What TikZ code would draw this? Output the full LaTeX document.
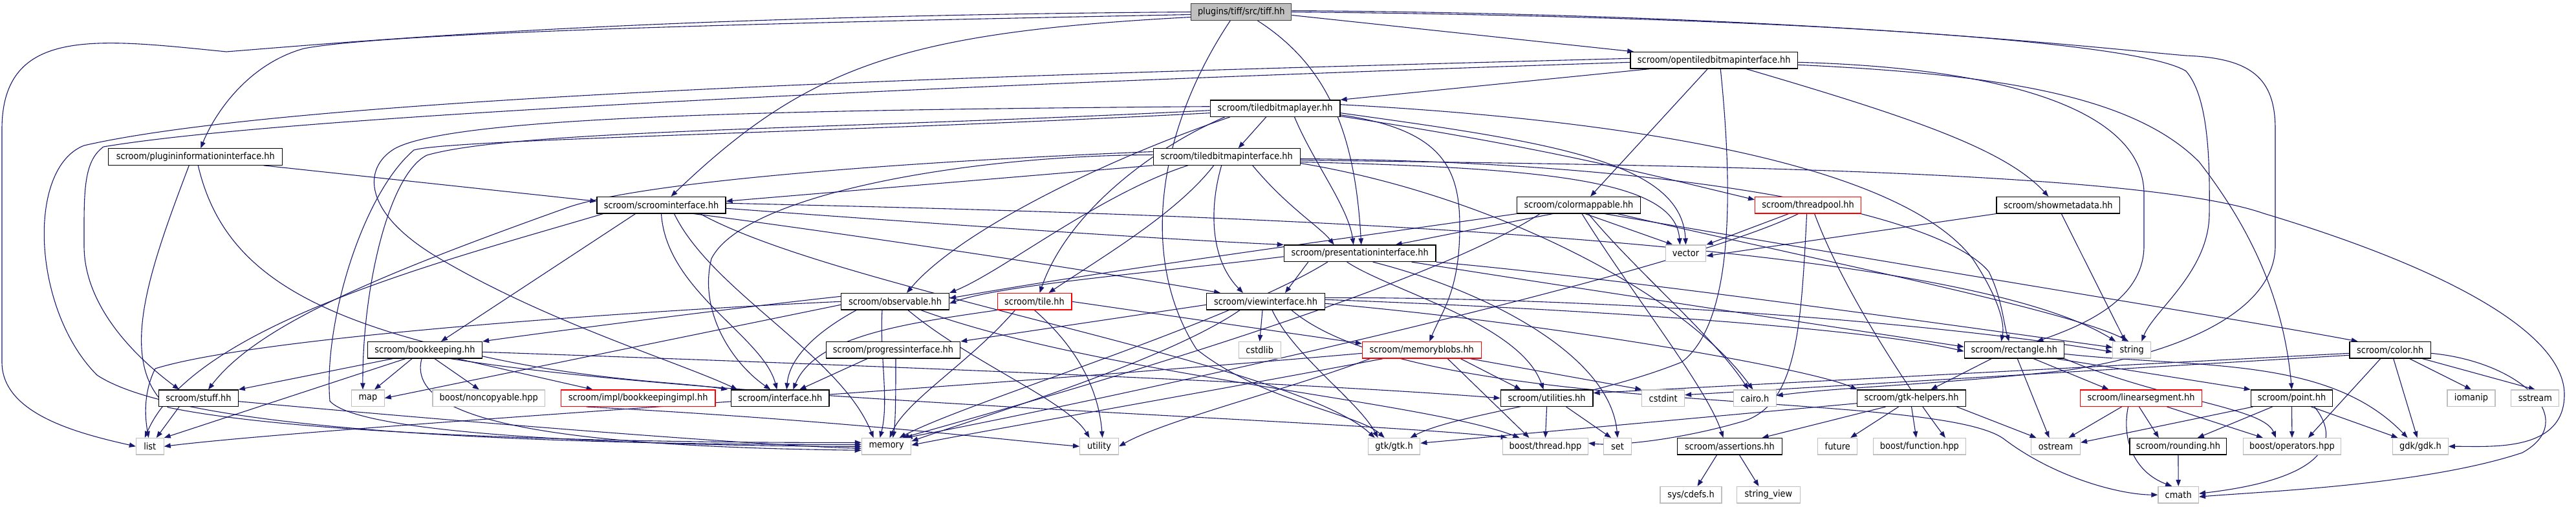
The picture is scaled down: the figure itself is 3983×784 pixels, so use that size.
\documentclass[tikz,border=0pt]{standalone}
\usepackage{fontspec}
\setmainfont{DejaVu Sans}[FakeStretch=0.9]
\usetikzlibrary{arrows.meta}
\definecolor{edgec}{HTML}{191970}
\definecolor{gbord}{HTML}{BFBFBF}
\definecolor{rootfill}{HTML}{BFBFBF}
\definecolor{rootbord}{HTML}{404040}
\newcommand{\fs}{\fontsize{14.4pt}{17pt}\selectfont}
\pgfdeclarelayer{back}
\pgfdeclarelayer{bg}
\pgfsetlayers{back,bg,main}
\tikzset{
 nb/.style={draw=black, fill=white, line width=1.2pt, minimum height=25.5pt, inner sep=0pt, font=\fs},
 ng/.style={nb, draw=gbord},
 nr/.style={nb, draw=red},
 nroot/.style={nb, fill=rootfill, draw=rootbord},
 edg/.style={draw=edgec, line width=1.1pt, -{Triangle[length=10pt,width=7.5pt]}},
}
\begin{document}
\begin{tikzpicture}[x=1pt,y=-1pt]
\begin{pgfonlayer}{back}
\fill[white] (0,0) rectangle (3983,784);
\end{pgfonlayer}
\useasboundingbox (0,0) rectangle (3983,784);
% row 0-5
\node[nroot, minimum width=155pt] (tiff) at (1919.3,18.5) {plugins/tiff/src/tiff.hh};
\node[nb, minimum width=258.3pt] (ot) at (2650.2,93.3) {scroom/opentiledbitmapinterface.hh};
\node[nb, minimum width=200.8pt] (tl) at (1971.6,167.7) {scroom/tiledbitmaplayer.hh};
\node[nb, minimum width=269pt] (pi) at (302.3,242.5) {scroom/plugininformationinterface.hh};
\node[nb, minimum width=227pt] (ti) at (1896.7,242.5) {scroom/tiledbitmapinterface.hh};
\node[nb, minimum width=199pt] (si) at (1022.5,317.2) {scroom/scroominterface.hh};
\node[nb, minimum width=190.7pt] (cm) at (2441,317.2) {scroom/colormappable.hh};
\node[nr, minimum width=164pt] (tp) at (2795.6,317.2) {scroom/threadpool.hh};
\node[nb, minimum width=190.7pt] (sm) at (3182.3,317.2) {scroom/showmetadata.hh};
\node[nb, minimum width=234.7pt] (pr) at (2102.7,391.8) {scroom/presentationinterface.hh};
\node[ng, minimum width=62.5pt] (vec) at (2606.5,391.8) {vector};
% row 6
\node[nb, minimum width=167pt] (obs) at (1384,466.3) {scroom/observable.hh};
\node[nr, minimum width=114.8pt] (tile) at (1599.5,466.3) {scroom/tile.hh};
\node[nb, minimum width=183pt] (vi) at (1957,466.3) {scroom/viewinterface.hh};
% row 7
\node[nb, minimum width=177pt] (bk) at (657,541.3) {scroom/bookkeeping.hh};
\node[nb, minimum width=207.3pt] (prog) at (1381,541.3) {scroom/progressinterface.hh};
\node[ng, minimum width=65pt] (cstdlib) at (1947.7,541.3) {cstdlib};
\node[nr, minimum width=183.7pt] (mb) at (2198.3,541.3) {scroom/memoryblobs.hh};
\node[nb, minimum width=154.3pt] (rect) at (3114.3,541.3) {scroom/rectangle.hh};
\node[ng, minimum width=58.7pt] (string) at (3296.2,541.3) {string};
\node[nb, minimum width=125.6pt] (color) at (3695.7,541.3) {scroom/color.hh};
% row 8
\node[nb, minimum width=122.5pt] (stuff) at (307,615.7) {scroom/stuff.hh};
\node[ng, minimum width=50.4pt] (map) at (569,615.7) {map};
\node[ng, minimum width=173.5pt] (nc) at (755.8,615.7) {boost/noncopyable.hpp};
\node[nr, minimum width=238.6pt] (bki) at (986.6,615.7) {scroom/impl/bookkeepingimpl.hh};
\node[nb, minimum width=151.2pt] (intf) at (1206.3,615.7) {scroom/interface.hh};
\node[nb, minimum width=142.8pt] (util) at (2391.6,615.7) {scroom/utilities.hh};
\node[ng, minimum width=65.7pt] (cstdint) at (2571.7,615.7) {cstdint};
\node[ng, minimum width=65.7pt] (cairo) at (2713.3,615.7) {cairo.h};
\node[nb, minimum width=167.3pt] (gh) at (2955.5,615.7) {scroom/gtk-helpers.hh};
\node[nr, minimum width=188.2pt] (ls) at (3310.5,615.7) {scroom/linearsegment.hh};
\node[nb, minimum width=126.3pt] (point) at (3543.5,615.7) {scroom/point.hh};
\node[ng, minimum width=74pt] (iomanip) at (3821,615.7) {iomanip};
\node[ng, minimum width=74pt] (sstream) at (3919.8,615.7) {sstream};
% row 9
\node[ng, minimum width=42.7pt] (list) at (231.8,690.3) {list};
\node[ng, minimum width=76.5pt] (memory) at (1370.6,690.3) {memory};
\node[ng, minimum width=60pt] (utility) at (1699.6,690.3) {utility};
\node[ng, minimum width=80.4pt] (gtk) at (2155.6,690.3) {gtk/gtk.h};
\node[ng, minimum width=132pt] (thread) at (2389.4,690.3) {boost/thread.hpp};
\node[ng, minimum width=42.7pt] (set) at (2501,690.3) {set};
\node[nb, minimum width=161.3pt] (assert) at (2674.5,690.3) {scroom/assertions.hh};
\node[ng, minimum width=61.2pt] (future) at (2841.2,690.3) {future};
\node[ng, minimum width=142.4pt] (func) at (2967.9,690.3) {boost/function.hpp};
\node[ng, minimum width=75.9pt] (ostream) at (3178.5,690.3) {ostream};
\node[nb, minimum width=149.8pt] (round) at (3367.9,690.3) {scroom/rounding.hh};
\node[ng, minimum width=151.2pt] (ops) at (3543.9,690.3) {boost/operators.hpp};
\node[ng, minimum width=85.5pt] (gdk) at (3742.5,690.3) {gdk/gdk.h};
% row 10
\node[ng, minimum width=95pt] (cdefs) at (2614.5,765.2) {sys/cdefs.h};
\node[ng, minimum width=97.6pt] (sv) at (2734.4,765.2) {string\_view};
\node[ng, minimum width=62.5pt] (cmath) at (3368.2,765.2) {cmath};

\begin{pgfonlayer}{bg}
% tiff
\draw[edg] (tiff.west) .. controls (1000,25) and (600,60) .. (350,80) .. controls (150,60) and (3,40) .. (3,200) -- (3,560) .. controls (3,640) and (120,670) .. (list.west);
\draw[edg] ([yshift=-4]tiff.west) .. controls (1200,35) and (600,50) .. (470,75) .. controls (380,100) and (330,180) .. ([xshift=8]pi.north);
\draw[edg] ([yshift=-8]tiff.west) .. controls (1400,50) and (1250,100) .. ([xshift=15]si.north);
\draw[edg] ([yshift=-5]tiff.east) -- ([xshift=-124]ot.north);
\draw[edg] ([xshift=25]tiff.south) .. controls (2050,100) and (2095,200) .. ([xshift=2]pr.north);
\draw[edg] ([xshift=-17]tiff.south) .. controls (1790,200) and (1760,400) .. (1850,540) .. controls (1950,620) and (2100,640) .. ([xshift=-15]gtk.north);
\draw[edg] (tiff.east) .. controls (2700,25) and (3300,60) .. (3380,110) .. controls (3415,150) and (3417,250) .. (3416,330) .. controls (3416,420) and (3330,480) .. ([xshift=15]string.north);
\draw[edg] ([yshift=2]tiff.east) .. controls (2800,22) and (3250,75) .. (3380,86) .. controls (3480,90) and (3518,120) .. (3518,200) -- (3518,380) .. controls (3518,470) and (3400,540) .. (3200,572) .. controls (3000,595) and (2850,598) .. ([yshift=4]cairo.east);
% plugininformationinterface
\draw[edg] ([xshift=-30]pi.south east) -- ([yshift=6]si.west);
\draw[edg] ([xshift=4]pi.south) .. controls (340,400) and (450,480) .. (700,540) .. controls (900,590) and (1050,590) .. ([xshift=-5]intf.north west);
\draw[edg] ([xshift=-10]pi.south) .. controls (230,420) and (180,560) .. (260,630) .. controls (500,680) and (1100,685) .. ([yshift=6]memory.west);
% opentiledbitmapinterface
\draw[edg] ([xshift=-100]ot.south) -- (tl.north east);
\draw[edg] ([xshift=-10]ot.south) -- ([xshift=18]cm.north);
\draw[edg] ([xshift=50]ot.south) .. controls (2950,180) and (3100,230) .. ([xshift=-15]sm.north);
\draw[edg] ([yshift=-3]ot.east) .. controls (3100,105) and (3315,170) .. (3315,300) -- (3315,380) .. controls (3315,460) and (3230,500) .. ([xshift=35]rect.north);
\draw[edg] ([yshift=-7]ot.east) .. controls (3100,115) and (3300,150) .. (3400,250) .. controls (3470,340) and (3530,450) .. (point.north);
\draw[edg] ([yshift=3]ot.west) .. controls (1800,110) and (500,140) .. (130,225) .. controls (40,260) and (50,480) .. (150,580) .. controls (300,680) and (1000,688) .. ([yshift=3]memory.west);
\draw[edg] ([yshift=-3]ot.west) .. controls (1800,120) and (500,170) .. (160,227) .. controls (128,250) and (130,300) .. (130,380) .. controls (130,480) and (220,560) .. ([xshift=-30]stuff.north);
\draw[edg] ([xshift=10]ot.south) .. controls (2680,300) and (2680,500) .. (2600,560) .. controls (2450,620) and (2250,640) .. ([xshift=25]gtk.north);
% tiledbitmaplayer
\draw[edg] ([xshift=-14]tl.south) -- ([xshift=18]ti.north);
\draw[edg] ([xshift=-70]tl.south) .. controls (1700,250) and (1480,360) .. ([xshift=18]obs.north);
\draw[edg] ([xshift=-78]tl.south) .. controls (1780,230) and (1650,330) .. ([xshift=8]tile.north);
\draw[edg] ([yshift=-10]tl.east) .. controls (2230,200) and (2257,260) .. (2257,350) .. controls (2257,450) and (2230,480) .. ([xshift=12]mb.north);
\draw[edg] ([yshift=-12]tl.east) .. controls (2400,230) and (2550,270) .. ([yshift=-5]tp.north west);
\draw[edg] ([yshift=-7]tl.east) .. controls (2400,220) and (2600,250) .. (vec.north);
\draw[edg] ([xshift=30]tl.south) .. controls (2030,250) and (2085,320) .. ([xshift=-10]pr.north);
\draw[edg] ([yshift=3]tl.west) .. controls (1200,170) and (700,180) .. (610,230) .. controls (560,260) and (560,330) .. (680,400) .. controls (850,500) and (1050,560) .. ([xshift=10]intf.north west);
\draw[edg] ([yshift=-3]tl.west) .. controls (1300,200) and (800,200) .. (660,240) .. controls (600,270) and (560,450) .. ([xshift=-8]map.north);
\draw[edg] ([yshift=-7]tl.west) .. controls (1300,205) and (700,215) .. (640,232) .. controls (560,300) and (500,500) .. (510,620) .. controls (560,680) and (1100,690) .. ([yshift=0]memory.west);
\draw[edg] ([yshift=6]tl.east) .. controls (2600,190) and (2950,270) .. (3050,400) .. controls (3090,460) and (3100,500) .. ([xshift=-20]rect.north);
% tiledbitmapinterface
\draw[edg] (ti.south west) -- ([yshift=6]si.east);
\draw[edg] ([xshift=-20]ti.south) .. controls (1820,330) and (1700,400) .. ([xshift=22]tile.north);
\draw[edg] ([xshift=40]ti.south) .. controls (1990,320) and (2040,350) .. ([xshift=-40]pr.north);
\draw[edg] ([xshift=-60]ti.south) .. controls (1700,300) and (1550,420) .. (obs.north east);
\draw[edg] ([xshift=-8]ti.south) .. controls (1870,320) and (1870,400) .. ([xshift=-35]vi.north);
\draw[edg] ([yshift=-3]ti.east) .. controls (2600,250) and (3000,330) .. (3075,420) .. controls (3095,460) and (3098,500) .. ([xshift=-8]rect.north);
\draw[edg] ([yshift=-8]ti.east) .. controls (2400,260) and (2590,280) .. ([xshift=-9]vec.north);
\draw[edg] ([yshift=3]ti.west) .. controls (1500,240) and (1150,300) .. (1100,400) .. controls (1080,480) and (1130,560) .. ([xshift=-15]intf.north);
\draw[edg] ([yshift=8]ti.west) .. controls (1400,250) and (1000,280) .. (880,320) .. controls (600,420) and (400,500) .. ([xshift=15]stuff.north);
\draw[edg] ([yshift=-10]ti.east) .. controls (2300,300) and (2600,450) .. ([xshift=-3]cairo.north);
\draw[edg] ([yshift=-5]ti.east) .. controls (2500,255) and (3300,260) .. (3500,330) .. controls (3800,420) and (3965,520) .. (3965,610) .. controls (3965,700) and (3850,690) .. (gdk.east);
% scroominterface
\draw[edg] ([yshift=-5]si.east) .. controls (1500,350) and (1800,370) .. (pr.north west);
\draw[edg] ([xshift=-50]si.south east) .. controls (1300,360) and (1700,420) .. ([xshift=-70]vi.north);
\draw[edg] ([xshift=-40]si.south) -- ([xshift=25]bk.north);
\draw[edg] (si.south) .. controls (1030,450) and (1180,520) .. ([xshift=-5]intf.north);
\draw[edg] ([xshift=20]si.south) .. controls (1100,450) and (1300,550) .. ([xshift=-20]memory.north);
\draw[edg] ([xshift=-90]si.south) .. controls (700,400) and (300,500) .. ([xshift=-8]list.north);
\draw[edg] ([yshift=3]si.east) .. controls (1800,330) and (3000,360) .. ([xshift=5]string.north west);
\draw[edg] ([xshift=60]si.south) .. controls (1300,450) and (2000,560) .. ([xshift=-30]gtk.north);
% colormappable
\draw[edg] ([xshift=-40]cm.south) -- ([xshift=55]pr.north);
\draw[edg] (cm.south west) .. controls (2000,380) and (1700,420) .. ([yshift=5]obs.east);
\draw[edg] ([xshift=10]cm.south) -- ([xshift=-20]vec.north);
\draw[edg] ([xshift=40]cm.south) .. controls (3000,420) and (3500,500) .. ([xshift=-50]color.north);
\draw[edg] ([xshift=60]cm.south) .. controls (2800,400) and (3200,480) .. ([xshift=-5]string.north);
\draw[edg] ([xshift=-60]cm.south) .. controls (2200,450) and (1600,620) .. ([xshift=25]memory.north);
\draw[edg] ([xshift=5]cm.south) .. controls (2520,450) and (2640,600) .. ([xshift=-10]assert.north);
\draw[edg] ([xshift=15]cm.south) .. controls (2530,420) and (2650,520) .. ([xshift=-10]cairo.north);
% threadpool
\draw[edg] ([xshift=-30]tp.south) -- (vec.north east);
\draw[edg] ([xshift=-15]tp.south) .. controls (2600,420) and (1800,600) .. ([xshift=30]memory.north);
\draw[edg] ([xshift=-2]tp.south) .. controls (2785,500) and (2780,620) .. (2700,650) .. controls (2600,680) and (2500,690) .. ([yshift=5]thread.east);
\draw[edg] ([xshift=10]tp.south) .. controls (2850,450) and (2950,600) .. ([xshift=40]func.north);
% showmetadata
\draw[edg] (sm.south west) -- ([yshift=-4]vec.east);
\draw[edg] ([xshift=5]sm.south) -- ([xshift=-10]string.north);
% presentationinterface
\draw[edg] ([yshift=-5]pr.west) .. controls (1800,420) and (1550,440) .. ([yshift=-3]obs.east);
\draw[edg] ([xshift=-80]pr.south) -- ([xshift=30]vi.north);
\draw[edg] ([xshift=80]pr.south) .. controls (2400,440) and (2800,500) .. ([yshift=5]rect.west);
\draw[edg] (pr.south east) .. controls (2500,430) and (3000,500) .. ([yshift=4]string.west);
\draw[edg] ([xshift=-50]pr.south) .. controls (1900,500) and (1500,620) .. ([xshift=20]memory.north);
\draw[edg] ([xshift=20]pr.south) .. controls (2300,450) and (2490,550) .. (set.north);
\draw[edg] ([xshift=-20]pr.south) .. controls (2150,450) and (2350,500) .. ([xshift=-5]util.north);
% observable
\draw[edg] ([xshift=-60]obs.south) .. controls (1250,520) and (1220,560) .. ([xshift=10]intf.north);
\draw[edg] (obs.west) .. controls (1000,480) and (400,520) .. (240,570) .. controls (220,610) and (225,650) .. ([xshift=-2]list.north);
\draw[edg] ([yshift=-5]obs.west) -- (map.east);
\draw[edg] ([xshift=-20]obs.south) .. controls (1360,550) and (1375,620) .. ([xshift=-10]memory.north);
\draw[edg] ([xshift=20]obs.south) .. controls (1500,560) and (1650,620) .. ([xshift=-15]utility.north);
\draw[edg] ([yshift=8]obs.west) .. controls (1100,480) and (800,520) .. (bk.north east);
\draw[edg] ([xshift=40]obs.south) .. controls (1700,580) and (2200,620) .. ([xshift=-40]thread.north);
% tile
\draw[edg] (tile.south west) .. controls (1400,500) and (1260,520) .. ([xshift=20]intf.north);
\draw[edg] ([xshift=-30]tile.south) .. controls (1500,560) and (1400,620) .. ([xshift=5]memory.north);
\draw[edg] (tile.south) .. controls (1680,550) and (1700,620) .. ([xshift=5]utility.north);
\draw[edg] (tile.east) -- ([yshift=10]mb.west);
% viewinterface
\draw[edg] ([yshift=-5]vi.west) -- (prog.north east);
\draw[edg] ([xshift=-5]vi.south) -- (cstdlib.north);
\draw[edg] ([xshift=-40]vi.south) .. controls (1800,560) and (1500,650) .. ([yshift=8]memory.east);
\draw[edg] ([yshift=3]vi.east) .. controls (2500,480) and (2900,510) .. ([yshift=-2]rect.west);
\draw[edg] ([yshift=6]vi.east) .. controls (2500,460) and (3000,500) .. ([yshift=-3]string.west);
\draw[edg] ([xshift=10]vi.south) .. controls (2000,550) and (2100,620) .. ([xshift=-25]gtk.north);
\draw[edg] ([xshift=40]vi.south) .. controls (2200,650) and (3000,600) .. (3100,680) .. controls (3180,740) and (3280,765) .. (cmath.west);
\draw[edg] ([yshift=-3]vi.east) .. controls (2400,500) and (2800,570) .. (gh.north west);
% progressinterface
\draw[edg] ([xshift=-40]prog.south) -- ([xshift=30]intf.north);
\draw[edg] ([xshift=4]prog.south) .. controls (1385,600) and (1385,650) .. ([xshift=10]memory.north);
% bookkeeping
\draw[edg] ([xshift=-50]bk.south) -- (stuff.north east);
\draw[edg] ([xshift=-30]bk.south) -- (list.north east);
\draw[edg] ([xshift=-20]bk.south) -- ([xshift=10]map.north);
\draw[edg] ([xshift=15]bk.south) -- ([xshift=-15]nc.north);
\draw[edg] ([xshift=50]bk.south) -- ([xshift=-70]bki.north);
\draw[edg] ([xshift=-5]bk.south) .. controls (630,640) and (800,690) .. ([yshift=-6]memory.west);
\draw[edg] ([yshift=-3]bk.east) .. controls (1200,560) and (2000,590) .. (util.west);
\draw[edg] ([xshift=40]bk.south) .. controls (1100,620) and (2100,650) .. ([xshift=8]thread.north west);
% bookkeepingimpl, stuff
\draw[edg] ([xshift=-80]bki.south) .. controls (1300,650) and (1550,680) .. (utility.west);
\draw[edg] ([xshift=-30]stuff.south) -- ([xshift=10]list.north);
\draw[edg] ([yshift=-5]stuff.east) .. controls (800,660) and (1200,690) .. ([yshift=-3]memory.west);
% memoryblobs
\draw[edg] ([yshift=-5]mb.west) .. controls (1500,600) and (500,660) .. (list.east);
\draw[edg] ([xshift=-60]mb.south) .. controls (1900,600) and (1500,670) .. ([yshift=2]memory.east);
\draw[edg] ([xshift=60]mb.south) -- ([xshift=-40]util.north);
\draw[edg] ([xshift=40]mb.south) -- ([xshift=-25]thread.north);
\draw[edg] ([xshift=75]mb.south) -- (cstdint.north west);
\draw[edg] ([xshift=-80]mb.south) .. controls (2000,600) and (1800,650) .. (utility.east);
% utilities
\draw[edg] (util.south) -- (thread.north);
\draw[edg] ([xshift=30]util.south) -- ([xshift=-10]set.north);
% rectangle
\draw[edg] ([xshift=-35]rect.south) -- ([xshift=30]gh.north);
\draw[edg] ([xshift=30]rect.south) -- ([xshift=-50]ls.north);
\draw[edg] ([xshift=65]rect.south) -- (point.north west);
\draw[edg] ([xshift=5]rect.south) -- ([xshift=-10]ostream.north);
\draw[edg] (rect.south east) .. controls (3350,620) and (3500,630) .. ([xshift=-25]ops.north);
\draw[edg] ([yshift=-6]rect.east) .. controls (3400,570) and (3600,550) .. ([xshift=-20]gdk.north);
% color
\draw[edg] ([xshift=-15]color.south) -- ([xshift=25]ops.north);
\draw[edg] ([xshift=5]color.south) -- ([xshift=-5]gdk.north);
\draw[edg] ([xshift=30]color.south) -- (iomanip.north);
\draw[edg] ([xshift=50]color.south) -- (sstream.north);
\draw[edg] ([yshift=-5]color.east) .. controls (3900,560) and (3990,650) .. (3900,700) .. controls (3750,750) and (3500,760) .. ([yshift=-3]cmath.east);
\draw[edg] ([yshift=-5]color.west) -- ([yshift=8]util.east);
\draw[edg] ([yshift=-8]color.west) -- ([yshift=5]cstdint.east);
% gtk-helpers
\draw[edg] ([xshift=70]gh.south) -- ([xshift=-30]ostream.north);
\draw[edg] ([xshift=-20]gh.south) -- ([xshift=20]future.north);
\draw[edg] (gh.south) -- ([xshift=-5]func.north);
\draw[edg] ([yshift=-8]gh.west) -- ([yshift=5]gtk.east);
\draw[edg] ([xshift=-40]gh.south) -- ([xshift=50]assert.north);
% linearsegment
\draw[edg] ([xshift=-30]ls.south) -- ([xshift=20]ostream.north);
\draw[edg] ([xshift=-3]ls.south) -- ([xshift=-30]round.north);
\draw[edg] ([xshift=-20]ls.south) .. controls (3280,680) and (3300,730) .. ([xshift=-10]cmath.north);
\draw[edg] ([xshift=40]ls.south) -- ([xshift=-45]ops.north);
% point
\draw[edg] ([xshift=-60]point.south) -- ([yshift=6]ostream.east);
\draw[edg] ([xshift=-30]point.south) -- ([xshift=30]round.north);
\draw[edg] (point.south) -- (ops.north);
\draw[edg] ([xshift=30]point.south) -- ([xshift=-35]gdk.north);
\draw[edg] ([xshift=35]point.south) .. controls (3620,680) and (3600,740) .. ([yshift=2]cmath.east);
% rounding, assertions
\draw[edg] (round.south) -- (cmath.north);
\draw[edg] ([xshift=-20]assert.south) -- ([xshift=10]cdefs.north);
\draw[edg] ([xshift=15]assert.south) -- ([xshift=-15]sv.north);
\end{pgfonlayer}
\end{tikzpicture}
\end{document}
